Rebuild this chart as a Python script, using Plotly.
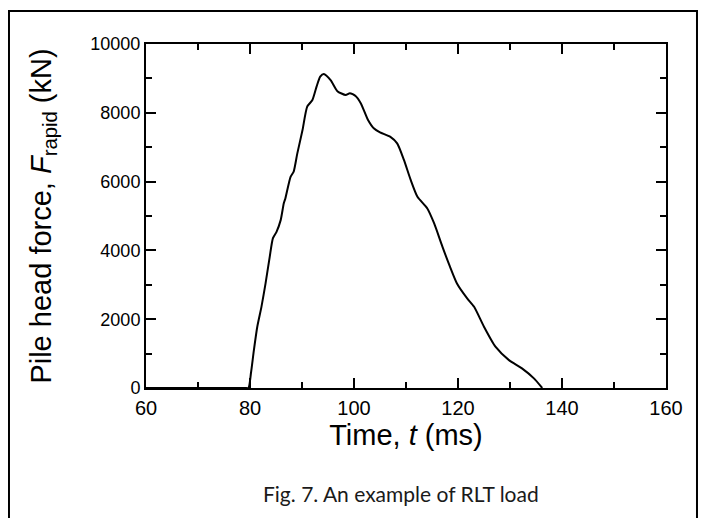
import plotly.graph_objects as go

# Data (time in ms, force in kN)
time_ms = [60, 79.0, 79.7, 80.2, 80.75, 81.4, 82.2, 83.0, 83.8, 84.4, 85.1, 85.9,
           86.5, 86.8, 87.8, 88.4, 89.1, 90.1, 91.0, 92.0, 92.8, 93.5, 94.2, 95.5,
           96.8, 98.4, 99.2, 100.3, 101.3, 102.7, 103.8, 105.0, 107.0, 108.3,
           109.6, 110.9, 112.2, 114.1, 115.4, 117.0, 118.4, 119.8, 121.8, 123.1,
           125.0, 127.2, 129.8, 132.3, 134.6, 136.2]
force_kn = [0, 0, 0, 450, 1100, 1780, 2360, 3050, 3820, 4350, 4540, 4880,
            5370, 5510, 6140, 6290, 6820, 7500, 8180, 8370, 8760, 9050, 9130, 8950,
            8630, 8520, 8570, 8490, 8280, 7790, 7550, 7430, 7300, 7110,
            6630, 6050, 5560, 5220, 4790, 4110, 3550, 3040, 2600, 2360,
            1780, 1200, 810, 570, 280, 0]

x_ticks = [60, 80, 100, 120, 140, 160]
y_ticks = [0, 2000, 4000, 6000, 8000, 10000]
caption = "Fig. 7. An example of RLT load"

fig = go.Figure()
fig.add_trace(go.Scatter(
    x=time_ms, y=force_kn, mode="lines",
    line=dict(color="black", width=2, shape="spline", smoothing=0.6),
    showlegend=False, hoverinfo="skip"))

arial = "Liberation Sans, Arial, sans-serif"

fig.update_layout(
    width=700, height=510,
    margin=dict(l=138, r=42, t=36, b=130),
    paper_bgcolor="white", plot_bgcolor="white",
    xaxis=dict(
        range=[60, 160], tickvals=x_ticks, ticktext=[str(v) for v in x_ticks],
        ticks="inside", ticklen=10, tickwidth=2, tickcolor="black",
        showline=True, linewidth=2, linecolor="black", mirror="ticks",
        showgrid=False, zeroline=False,
        tickfont=dict(family=arial, size=20, color="black"),
        ticklabelstandoff=1,
        minor=dict(dtick=10, tick0=0, ticks="inside", ticklen=6, tickwidth=2,
                   tickcolor="black", showgrid=False),
        title=dict(text="Time, <i>t</i> (ms)",
                   font=dict(family=arial, size=29, color="black"), standoff=2),
    ),
    yaxis=dict(
        range=[0, 10000], tickvals=y_ticks, ticktext=[str(v) for v in y_ticks],
        ticks="inside", ticklen=10, tickwidth=2, tickcolor="black",
        showline=True, linewidth=2, linecolor="black", mirror="ticks",
        showgrid=False, zeroline=False,
        tickfont=dict(family=arial, size=18, color="black"),
        minor=dict(dtick=1000, tick0=0, ticks="inside", ticklen=6, tickwidth=2,
                   tickcolor="black", showgrid=False),
        title=dict(text="Pile head force, <i>F</i><sub>rapid</sub> (kN)",
                   font=dict(family=arial, size=29, color="black"), standoff=30),
    ),
    shapes=[dict(type="rect", xref="paper", yref="paper",
                 x0=-0.2635, x1=1.0596, y0=-0.40, y1=1.096,
                 line=dict(color="black", width=2), layer="below")],
    annotations=[dict(text=caption, xref="paper", yref="paper",
                      x=0.4913, y=-0.349, showarrow=False,
                      font=dict(family="Lato, Open Sans, sans-serif", size=21,
                                color="#1a1a1a"))],
)

fig.write_html("out.html")
